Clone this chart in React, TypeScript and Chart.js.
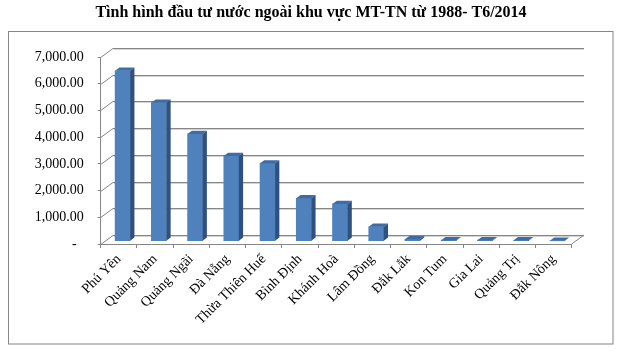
import React, { useEffect, useRef } from 'react';
import { Chart, registerables } from 'chart.js';

Chart.register(...registerables);

const titleText = 'Tình hình đầu tư nước ngoài khu vực MT-TN từ 1988- T6/2014';
const categories = [
  'Phú Yên',
  'Quảng Nam',
  'Quảng Ngãi',
  'Đà Nẵng',
  'Thừa Thiên Huế',
  'Bình Định',
  'Khánh Hoà',
  'Lâm Đồng',
  'Đắk Lắk',
  'Kon Tum',
  'Gia Lai',
  'Quảng Trị',
  'Đắk Nông',
];
const investment = [6380, 5185, 4015, 3190, 2915, 1605, 1395, 545, 75, 35, 40, 35, 15];
const yTickValues = [0, 1000, 2000, 3000, 4000, 5000, 6000, 7000];

const FONT = "'Liberation Serif', 'Times New Roman', serif";
const AXIS_GRAY = '#868686';
const FRONT = '#4F81BD';
const TOP = '#3E6CA5';
const SIDE = '#2E5180';

const DEPTH_X = 12.3;
const DEPTH_Y = -9;
const BAR_SHIFT_X = 3.8;
const BAR_SHIFT_Y = -2.8;
const BAR_DX = 4.3;
const BAR_DY = -3.2;

const frame = {
  id: 'frame',
  beforeDraw(chart: any) {
    const ctx = chart.ctx;
    ctx.save();
    ctx.fillStyle = '#ffffff';
    ctx.fillRect(0, 0, chart.width, chart.height);
    ctx.strokeStyle = AXIS_GRAY;
    ctx.lineWidth = 1;
    ctx.strokeRect(8.5, 31.5, 604.5, 312.5);
    ctx.restore();
  },
};

const threeD = {
  id: 'threeD',
  beforeDatasetsDraw(chart: any) {
    const ctx = chart.ctx;
    const a = chart.chartArea;
    const y = chart.scales.y;
    ctx.save();
    ctx.lineWidth = 1;
    y.ticks.forEach((t: any) => {
      const yf = Math.round(y.getPixelForValue(t.value)) + 0.5;
      ctx.strokeStyle = AXIS_GRAY;
      ctx.beginPath();
      ctx.moveTo(a.left, yf);
      ctx.lineTo(a.left + DEPTH_X, yf + DEPTH_Y);
      ctx.lineTo(a.right + DEPTH_X, yf + DEPTH_Y);
      ctx.stroke();
      ctx.strokeStyle = '#d4d4d4';
      ctx.beginPath();
      ctx.moveTo(a.left + DEPTH_X + 1, yf + DEPTH_Y + 1);
      ctx.lineTo(a.right + DEPTH_X, yf + DEPTH_Y + 1);
      ctx.stroke();
    });
    ctx.strokeStyle = AXIS_GRAY;
    ctx.beginPath();
    ctx.moveTo(a.right, a.bottom);
    ctx.lineTo(a.right + DEPTH_X, a.bottom + DEPTH_Y);
    ctx.stroke();
    ctx.restore();
  },
  beforeDatasetDraw(chart: any) {
    chart.ctx.save();
    chart.ctx.translate(BAR_SHIFT_X, BAR_SHIFT_Y);
  },
  afterDatasetDraw(chart: any, args: any) {
    const ctx = chart.ctx;
    args.meta.data.forEach((bar: any) => {
      const { x, y, base, width } = bar.getProps(['x', 'y', 'base', 'width'], true);
      const x0 = x - width / 2;
      const x1 = x + width / 2;
      ctx.fillStyle = TOP;
      ctx.beginPath();
      ctx.moveTo(x0, y);
      ctx.lineTo(x1, y);
      ctx.lineTo(x1 + BAR_DX, y + BAR_DY);
      ctx.lineTo(x0 + BAR_DX, y + BAR_DY);
      ctx.closePath();
      ctx.fill();
      ctx.fillStyle = SIDE;
      ctx.beginPath();
      ctx.moveTo(x1, y);
      ctx.lineTo(x1 + BAR_DX, y + BAR_DY);
      ctx.lineTo(x1 + BAR_DX, base + BAR_DY);
      ctx.lineTo(x1, base);
      ctx.closePath();
      ctx.fill();
    });
    ctx.restore();
  },
};

export default function App() {
  const ref = useRef<HTMLCanvasElement | null>(null);

  useEffect(() => {
    if (!ref.current) return;
    const chart = new Chart(ref.current, {
      type: 'bar',
      data: {
        labels: categories,
        datasets: [
          {
            label: 'Đầu tư nước ngoài',
            data: investment,
            backgroundColor: FRONT,
            borderWidth: 0,
            barThickness: 15,
            clip: false as any,
          },
        ],
      },
      options: {
        animation: false,
        responsive: false,
        maintainAspectRatio: false,
        layout: { padding: { left: 8, right: 12, top: 0, bottom: 10 } },
        plugins: {
          legend: { display: false },
          tooltip: { enabled: false },
          title: {
            display: true,
            text: titleText,
            color: '#000000',
            font: { family: FONT, size: 16, weight: 'bold' },
            padding: { top: 3, bottom: 34.8 },
          },
        },
        scales: {
          x: {
            grid: {
              drawOnChartArea: false,
              drawTicks: true,
              tickLength: 4,
              color: AXIS_GRAY,
            },
            border: { display: true, color: AXIS_GRAY },
            ticks: {
              autoSkip: false,
              maxRotation: 45,
              minRotation: 45,
              padding: 3,
              color: '#000000',
              font: { family: FONT, size: 14 },
            },
            afterFit(s: any) {
              s.height = 100;
            },
          },
          y: {
            min: 0,
            max: 7000,
            afterBuildTicks(s: any) {
              s.ticks = yTickValues.map((v) => ({ value: v }));
            },
            grid: {
              drawOnChartArea: false,
              drawTicks: true,
              tickLength: 3,
              color: AXIS_GRAY,
            },
            border: { display: true, color: AXIS_GRAY },
            ticks: {
              padding: 14,
              color: '#000000',
              font: { family: FONT, size: 14 },
              callback: (v: any) =>
                Number(v) === 0
                  ? '-  '
                  : Number(v).toLocaleString('en-US', {
                      minimumFractionDigits: 2,
                      maximumFractionDigits: 2,
                    }),
            },
            afterFit(s: any) {
              s.width = 92.7;
            },
          },
          yPad: {
            type: 'linear',
            position: 'right',
            display: true,
            grid: { display: false },
            border: { display: false },
            ticks: { display: false },
            afterFit(s: any) {
              s.width = 42.3;
            },
          },
        },
      },
      plugins: [frame, threeD],
    });
    return () => chart.destroy();
  }, []);

  return (
    <div style={{ position: 'absolute', left: 0, top: 0, width: 626, height: 354 }}>
      <canvas ref={ref} width={626} height={354} style={{ display: 'block' }} />
    </div>
  );
}
